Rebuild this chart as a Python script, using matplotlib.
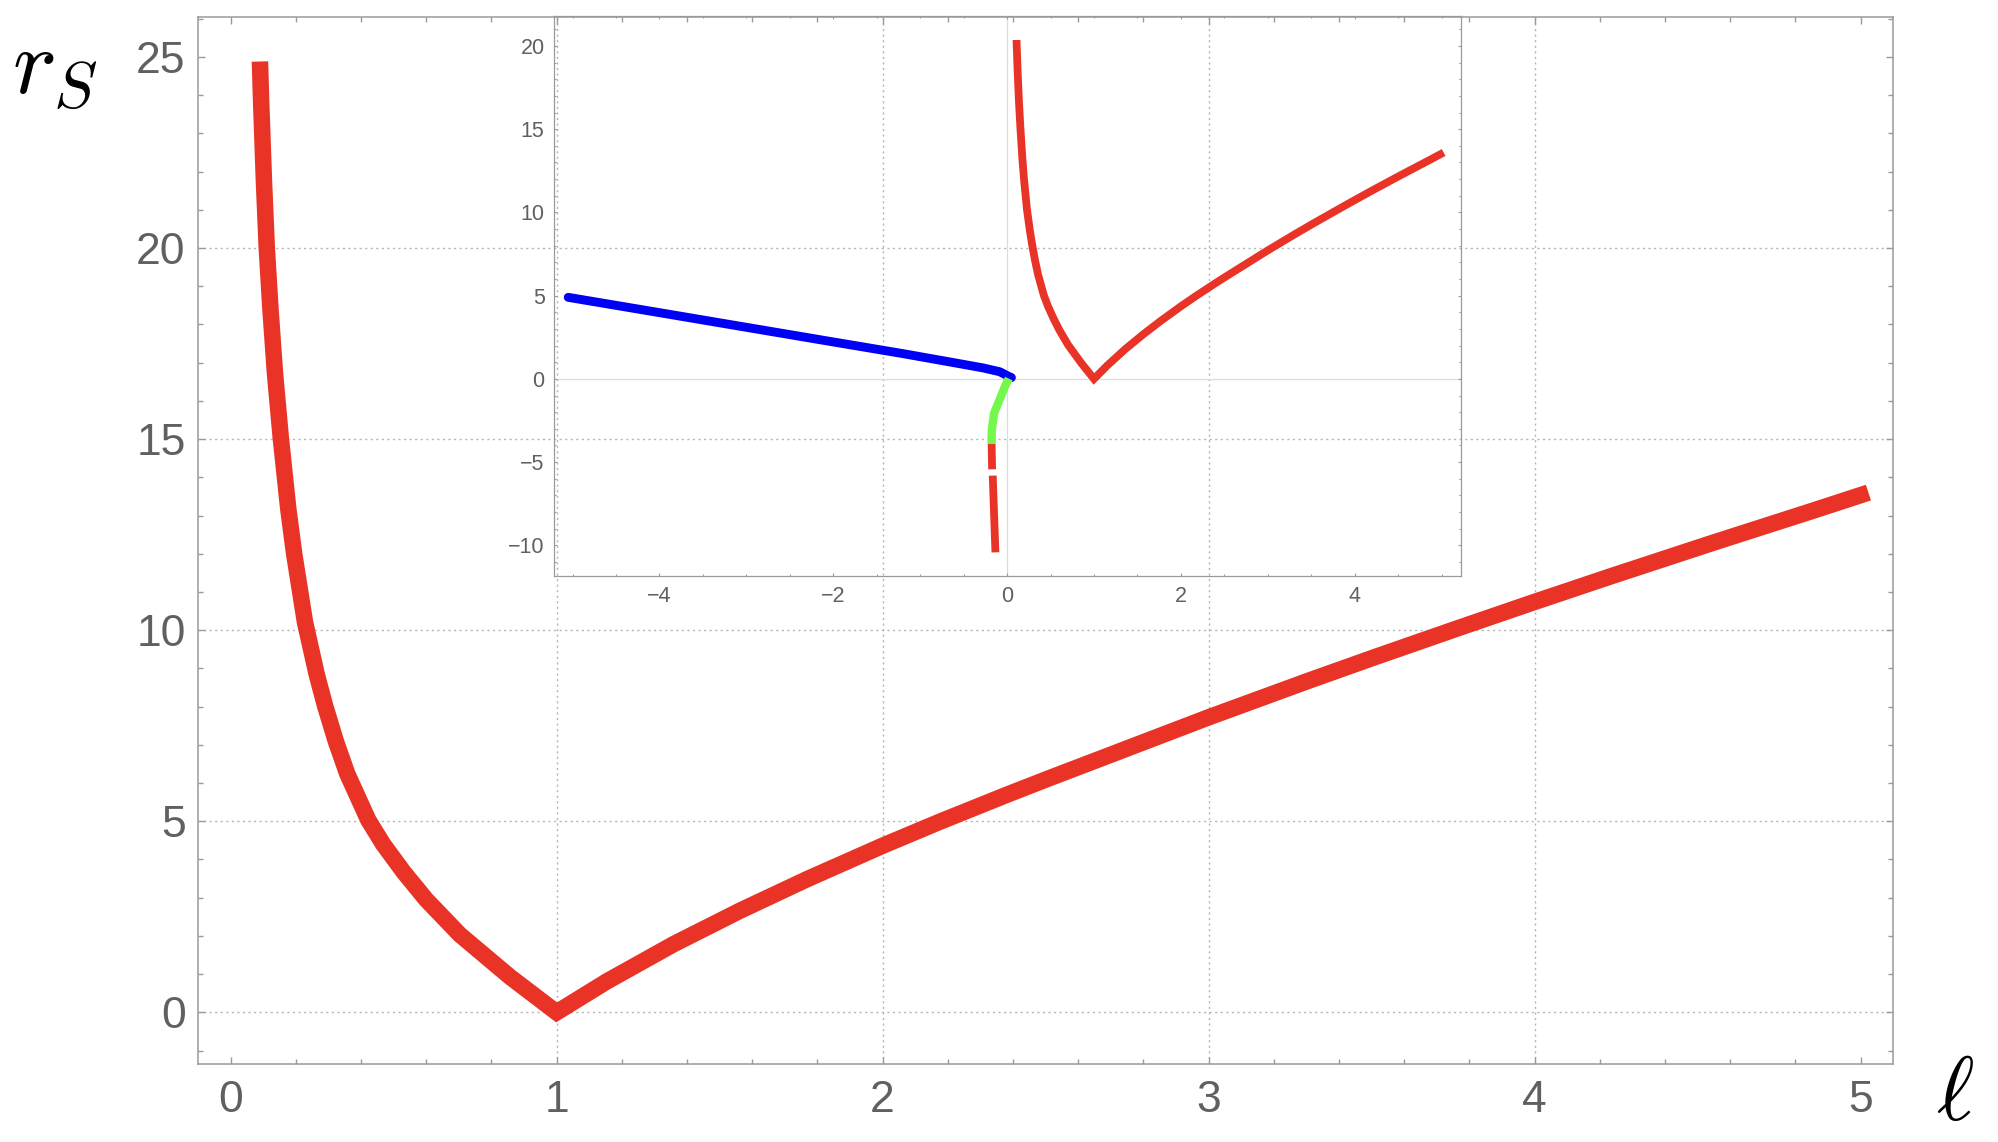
import matplotlib
matplotlib.use("Agg")
import matplotlib.pyplot as plt
from matplotlib.patches import Rectangle
from matplotlib.ticker import MultipleLocator

plt.rcParams['font.family'] = ['Liberation Sans', 'DejaVu Sans']
plt.rcParams['mathtext.fontset'] = 'cm'

# main curve r_S(ell)
ell = [0.090, 0.094, 0.1025, 0.111, 0.122, 0.136, 0.154, 0.177, 0.195, 0.228,
       0.264, 0.2896, 0.323, 0.358, 0.4225, 0.468, 0.53, 0.60, 0.7037, 0.857,
       1.0, 1.154, 1.194, 1.358, 1.5626, 1.767, 2.0, 2.176, 2.38, 2.5,
       3.0, 3.301, 3.505, 3.761, 4.0, 4.241, 4.548, 4.855, 5.024]
r_s = [24.88, 23.75, 21.7, 20.0, 18.44, 16.74, 15.03, 13.17, 12.0, 10.22,
       8.85, 8.03, 7.09, 6.24, 5.03, 4.40, 3.68, 2.95, 2.03, 0.93,
       0.0, 0.81, 1.0, 1.78, 2.66, 3.48, 4.36, 4.99, 5.69, 6.09,
       7.72, 8.66, 9.28, 10.04, 10.74, 11.43, 12.29, 13.13, 13.60]

# inset branches
blue_x = [-5.05, -4.0, -3.0, -2.0, -1.2, -0.66, -0.276, -0.084, 0.012, 0.05]
blue_y = [4.90, 3.98, 3.10, 2.22, 1.52, 1.02, 0.66, 0.43, 0.17, 0.08]

green_x = [0.02, -0.026, -0.072, -0.15, -0.176, -0.178]
green_y = [0.02, -0.47, -1.07, -2.07, -3.07, -3.91]

red_a_x = [-0.178, -0.172]
red_a_y = [-3.91, -5.43]
red_b_x = [-0.165, -0.134]
red_b_y = [-5.81, -10.42]

RED = '#E83326'
BLUE = '#0000F5'
GREEN = '#74F84B'
AXC = '#9A9A9A'
LBL = '#606060'

fig = plt.figure(figsize=(19.98, 11.42), dpi=100)
ax = fig.add_axes([0.09885, 0.0680, 0.8486, 0.9173])

ax.set_xlim(-0.1015, 5.0994)
ax.set_ylim(-1.36, 26.05)

grid_kw = dict(color='#B4B4B4', lw=1.0, linestyle=(0, (1.5, 2.5)), zorder=0)
for gx in [1, 2, 3, 4]:
    ax.axvline(gx, **grid_kw)
for gy in [0, 5, 10, 15, 20]:
    ax.axhline(gy, **grid_kw)

ax.plot(ell, r_s, color=RED, lw=11.9, solid_capstyle='butt',
        solid_joinstyle='miter', zorder=3)

ax.xaxis.set_major_locator(MultipleLocator(1))
ax.xaxis.set_minor_locator(MultipleLocator(0.2))
ax.yaxis.set_major_locator(MultipleLocator(5))
ax.yaxis.set_minor_locator(MultipleLocator(1))
ax.tick_params(which='both', direction='in', top=True, right=True,
               color=AXC, width=1.0)
ax.tick_params(which='major', length=5, labelsize=32, labelcolor=LBL)
ax.tick_params(which='minor', length=3.3)
ax.tick_params(axis='x', pad=11.5)
ax.tick_params(axis='y', pad=8.6)
for s in ax.spines.values():
    s.set_color(AXC)
    s.set_linewidth(1.1)

# inset
ins = fig.add_axes([554.3 / 1998, 1 - 576 / 1142, (1460.7 - 554.3) / 1998,
                    (576 - 16) / 1142])
ins.patch.set_alpha(0)
ins.set_xlim(-5.21, 5.22)
ins.set_ylim(-11.84, 21.8)
ins.axhline(0, color='#DCDCDC', lw=0.9, zorder=0)
ins.axvline(0, color='#DCDCDC', lw=0.9, zorder=0)

ln, = ins.plot(ell, r_s, color=RED, lw=5.6, solid_capstyle='butt',
               solid_joinstyle='miter', zorder=3)
ln.set_clip_path(Rectangle((-6, -12), 12, 32.34, transform=ins.transData))
ins.plot(blue_x, blue_y, color=BLUE, lw=6.4, solid_capstyle='round', zorder=3)
ins.plot(green_x, green_y, color=GREEN, lw=6.0, solid_capstyle='butt', zorder=4)
ins.plot(red_a_x, red_a_y, color=RED, lw=5.6, solid_capstyle='butt', zorder=3)
ins.plot(red_b_x, red_b_y, color=RED, lw=5.6, solid_capstyle='butt', zorder=3)

ins.xaxis.set_major_locator(MultipleLocator(2))
ins.xaxis.set_minor_locator(MultipleLocator(0.5))
ins.yaxis.set_major_locator(MultipleLocator(5))
ins.yaxis.set_minor_locator(MultipleLocator(1))
ins.tick_params(which='both', direction='in', top=True, right=True,
                color=AXC, width=0.8)
ins.tick_params(which='major', length=2.5, labelsize=15.5, labelcolor=LBL)
ins.tick_params(which='minor', length=1.4)
ins.tick_params(axis='x', pad=7.5)
ins.tick_params(axis='y', pad=7)
for s in ins.spines.values():
    s.set_color(AXC)
    s.set_linewidth(0.9)

fig.text(0.006, 1 - 93 / 1142, r'$r_S$', ha='left', va='baseline', fontsize=67)
fig.text(1955 / 1998, 1 - 1120 / 1142, r'$\ell$', ha='center', va='baseline',
         fontsize=65)

fig.savefig('out.png', dpi=100)
